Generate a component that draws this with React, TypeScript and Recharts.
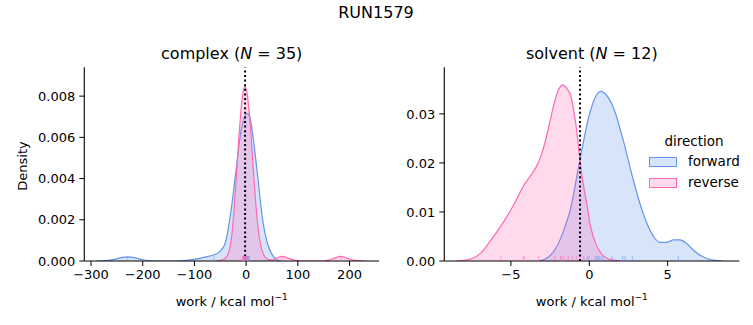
import React from "react";
import {
  ComposedChart,
  Area,
  Scatter,
  XAxis,
  YAxis,
  ReferenceLine,
} from "recharts";

// KDE curves (x = work, y = density)
const complexForward = [
  { x: -290, y: 0 }, { x: -270, y: 0.00002 }, { x: -255, y: 0.00008 }, { x: -242, y: 0.00016 },
  { x: -229, y: 0.0002 }, { x: -216, y: 0.00016 }, { x: -203, y: 0.00008 }, { x: -190, y: 0.00002 },
  { x: -175, y: 0 }, { x: -135, y: 0 }, { x: -115, y: 0.00003 }, { x: -95, y: 0.0001 },
  { x: -78, y: 0.0002 }, { x: -62, y: 0.0003 }, { x: -50, y: 0.00048 }, { x: -40, y: 0.0009 },
  { x: -30, y: 0.0023 }, { x: -20, y: 0.0043 }, { x: -10, y: 0.0063 }, { x: -3, y: 0.007 },
  { x: 2, y: 0.00716 }, { x: 7, y: 0.007 }, { x: 14, y: 0.0059 }, { x: 22, y: 0.0042 },
  { x: 32, y: 0.002 }, { x: 42, y: 0.0008 }, { x: 50, y: 0.00032 }, { x: 60, y: 0.00006 },
  { x: 68, y: 0 },
];

const complexReverse = [
  { x: -58, y: 0 }, { x: -48, y: 0.00004 }, { x: -41, y: 0.00012 }, { x: -34, y: 0.0004 },
  { x: -27, y: 0.0014 }, { x: -20, y: 0.0037 }, { x: -14, y: 0.006 }, { x: -8, y: 0.0078 },
  { x: -3, y: 0.0085 }, { x: 2, y: 0.0081 }, { x: 8, y: 0.0066 }, { x: 14, y: 0.0044 },
  { x: 20, y: 0.0024 }, { x: 27, y: 0.0009 }, { x: 34, y: 0.0003 }, { x: 42, y: 0.00008 },
  { x: 50, y: 0.00005 }, { x: 58, y: 0.00013 }, { x: 70, y: 0.00022 }, { x: 82, y: 0.00013 },
  { x: 95, y: 0.00003 }, { x: 110, y: 0 }, { x: 150, y: 0 }, { x: 160, y: 0.00004 },
  { x: 171, y: 0.00014 }, { x: 183, y: 0.00022 }, { x: 195, y: 0.00014 }, { x: 207, y: 0.00004 },
  { x: 220, y: 0.00001 }, { x: 232, y: 0 },
];

const solventForward = [
  { x: -3.2, y: 0 }, { x: -2.6, y: 0.0008 }, { x: -2.1, y: 0.0028 }, { x: -1.6, y: 0.0065 },
  { x: -1.2, y: 0.0106 }, { x: -0.6, y: 0.0206 }, { x: 0, y: 0.0298 }, { x: 0.4, y: 0.0335 },
  { x: 0.73, y: 0.0346 }, { x: 1.1, y: 0.0338 }, { x: 1.55, y: 0.0312 }, { x: 2.15, y: 0.0248 },
  { x: 2.8, y: 0.0166 }, { x: 3.3, y: 0.011 }, { x: 3.7, y: 0.0075 }, { x: 4.1, y: 0.005 },
  { x: 4.5, y: 0.0038 }, { x: 4.9, y: 0.0038 }, { x: 5.4, y: 0.0043 }, { x: 5.8, y: 0.0043 },
  { x: 6.2, y: 0.0036 }, { x: 6.65, y: 0.0022 }, { x: 7.1, y: 0.0011 }, { x: 7.5, y: 0.0005 },
  { x: 8.0, y: 0.00012 }, { x: 8.5, y: 0 },
];

const solventReverse = [
  { x: -8.5, y: 0 }, { x: -7.9, y: 0.0002 }, { x: -7.4, y: 0.0006 }, { x: -6.9, y: 0.0017 },
  { x: -6.35, y: 0.0039 }, { x: -5.8, y: 0.0064 }, { x: -5.27, y: 0.009 }, { x: -4.7, y: 0.0122 },
  { x: -4.2, y: 0.0153 }, { x: -3.7, y: 0.0176 }, { x: -3.35, y: 0.0194 }, { x: -3.0, y: 0.0222 },
  { x: -2.7, y: 0.0258 }, { x: -2.4, y: 0.03 }, { x: -2.15, y: 0.0332 }, { x: -1.9, y: 0.0353 },
  { x: -1.72, y: 0.0359 }, { x: -1.45, y: 0.0353 }, { x: -1.15, y: 0.0333 }, { x: -0.95, y: 0.0298 },
  { x: -0.8, y: 0.0265 }, { x: -0.6, y: 0.0206 }, { x: -0.35, y: 0.015 }, { x: -0.15, y: 0.0115 },
  { x: 0.05, y: 0.0075 }, { x: 0.35, y: 0.004 }, { x: 0.7, y: 0.0018 }, { x: 1.1, y: 0.0006 },
  { x: 1.55, y: 0.0002 }, { x: 2.0, y: 0 },
];

// rug positions
const complexForwardRug = [-229, -62, -5, -3, -2, -1, 0, 1, 2, 3, 4, 5, 6];
const complexReverseRug = [-7, -6, -5, -4, -3, -2, -1, 0, 1, 2, 3, 70, 183];
const solventForwardRug = [-0.13, -0.02, 0.38, 0.47, 0.58, 0.68, 0.85, 1.45, 2.13, 2.28, 2.75, 5.68];
const solventReverseRug = [-5.65, -4.21, -4.15, -3.23, -2.2, -1.83, -1.76, -1.6, -1.34, -1.06, -0.8, -0.35];

const complexXTicks = [-300, -200, -100, 0, 100, 200];
const complexYTicks = [0, 0.002, 0.004, 0.006, 0.008];
const solventXTicks = [-5, 0, 5];
const solventYTicks = [0, 0.01, 0.02, 0.03];

const complexEstimate = -2;
const solventEstimate = -0.59;

const BLUE = "#6495ED";
const PINK = "#FF69B4";
const FONT = "DejaVu Sans, sans-serif";

const minus = (v: number) => (v < 0 ? "\u2212" + Math.abs(v) : String(v));

const rugShape = (color: string) => (props: any) => (
  <line x1={props.cx} x2={props.cx} y1={props.cy} y2={props.cy - 5} stroke={color} strokeOpacity={0.55} strokeWidth={1} />
);

const toRug = (xs: number[]) => xs.map((x) => ({ x, y: 0 }));

const tickStyle = { fill: "#000", fontSize: 13, fontFamily: FONT };

interface PanelProps {
  left: number;
  width: number;
  yAxisWidth: number;
  marginLeft: number;
  marginRight: number;
  xDomain: [number, number];
  yDomain: [number, number];
  xTicks: number[];
  yTicks: number[];
  yDigits: number;
  forward: { x: number; y: number }[];
  reverse: { x: number; y: number }[];
  forwardRug: number[];
  reverseRug: number[];
  estimate: number;
}

const Panel = (p: PanelProps) => (
  <div style={{ position: "absolute", left: p.left, top: 0 }}>
    <ComposedChart
      width={p.width}
      height={325}
      margin={{ top: 67.3, right: p.marginRight, bottom: 34, left: p.marginLeft }}
    >
      <XAxis
        type="number"
        dataKey="x"
        domain={p.xDomain}
        ticks={p.xTicks}
        allowDataOverflow
        tickFormatter={minus}
        height={30}
        tickSize={5}
        tickMargin={4}
        stroke="#000"
        tick={tickStyle}
        tickLine={{ stroke: "#000" }}
        axisLine={{ stroke: "#000", strokeWidth: 1.1 }}
      />
      <YAxis
        type="number"
        dataKey="y"
        domain={p.yDomain}
        ticks={p.yTicks}
        allowDataOverflow
        width={p.yAxisWidth}
        tickFormatter={(v: number) => v.toFixed(p.yDigits)}
        tickSize={5}
        tickMargin={4}
        stroke="#000"
        tick={tickStyle}
        tickLine={{ stroke: "#000" }}
        axisLine={{ stroke: "#000", strokeWidth: 1.1 }}
      />
      <Area
        data={p.forward}
        dataKey="y"
        type="monotone"
        stroke={BLUE}
        strokeWidth={1.2}
        fill={BLUE}
        fillOpacity={0.25}
        isAnimationActive={false}
        dot={false}
        activeDot={false}
      />
      <Area
        data={p.reverse}
        dataKey="y"
        type="monotone"
        stroke={PINK}
        strokeWidth={1.2}
        fill={PINK}
        fillOpacity={0.25}
        isAnimationActive={false}
        dot={false}
        activeDot={false}
      />
      <Scatter data={toRug(p.forwardRug)} dataKey="y" shape={rugShape(BLUE)} isAnimationActive={false} />
      <Scatter data={toRug(p.reverseRug)} dataKey="y" shape={rugShape(PINK)} isAnimationActive={false} />
      <ReferenceLine x={p.estimate} stroke="#000" strokeWidth={2} strokeDasharray="2 2.6" />
    </ComposedChart>
  </div>
);

const centered = (x: number, y: number, size: number): React.CSSProperties => ({
  position: "absolute",
  left: x,
  top: y,
  transform: "translate(-50%, -50%)",
  fontSize: size,
  fontFamily: FONT,
  color: "#000",
  whiteSpace: "nowrap",
  lineHeight: 1,
});

const XLabel = () => (
  <span>
    work / kcal mol<sup style={{ fontSize: 9, verticalAlign: "6px" }}>{"\u22121"}</sup>
  </span>
);

const swatch = (color: string, bg: string): React.CSSProperties => ({
  position: "absolute",
  left: 649,
  width: 26,
  height: 8,
  border: `1.5px solid ${color}`,
  background: bg,
});

export default function App() {
  return (
    <div style={{ position: "absolute", left: 0, top: 0, width: 753, height: 325, background: "#fff", overflow: "hidden" }}>
      <Panel
        left={0}
        width={400}
        yAxisWidth={60}
        marginLeft={24.3}
        marginRight={21}
        xDomain={[-313, 257]}
        yDomain={[0, 0.0094]}
        xTicks={complexXTicks}
        yTicks={complexYTicks}
        yDigits={3}
        forward={complexForward}
        reverse={complexReverse}
        forwardRug={complexForwardRug}
        reverseRug={complexReverseRug}
        estimate={complexEstimate}
      />
      <Panel
        left={400}
        width={353}
        yAxisWidth={44}
        marginLeft={0.3}
        marginRight={13.7}
        xDomain={[-9.25, 9.57]}
        yDomain={[0, 0.0395]}
        xTicks={solventXTicks}
        yTicks={solventYTicks}
        yDigits={2}
        forward={solventForward}
        reverse={solventReverse}
        forwardRug={solventForwardRug}
        reverseRug={solventReverseRug}
        estimate={solventEstimate}
      />

      <div style={centered(376, 13, 16)}>RUN1579</div>
      <div style={centered(231.7, 54, 16)}>
        complex (<i>N</i> = 35)
      </div>
      <div style={centered(591.8, 54, 16)}>
        solvent (<i>N</i> = 12)
      </div>
      <div style={centered(231.7, 300, 13)}>
        <XLabel />
      </div>
      <div style={centered(591.8, 300, 13)}>
        <XLabel />
      </div>
      <div style={{ ...centered(22, 165.5, 13), transform: "translate(-50%, -50%) rotate(-90deg)" }}>Density</div>

      <div style={centered(694, 142, 13.5)}>direction</div>
      <div style={{ ...swatch(BLUE, "rgba(100,149,237,0.25)"), top: 157 }} />
      <div style={{ ...swatch(PINK, "rgba(255,105,180,0.25)"), top: 178 }} />
      <div style={{ ...centered(688, 162, 13.5), transform: "translate(0, -50%)" }}>forward</div>
      <div style={{ ...centered(688, 183, 13.5), transform: "translate(0, -50%)" }}>reverse</div>
    </div>
  );
}
